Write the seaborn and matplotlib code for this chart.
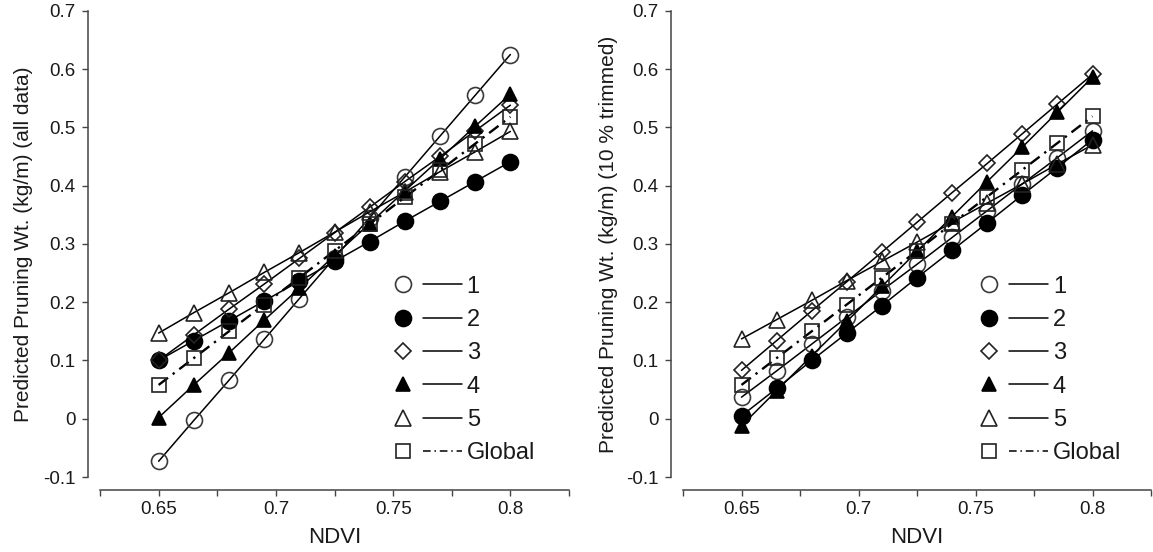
import matplotlib
matplotlib.use("Agg")
import matplotlib.pyplot as plt
from matplotlib.lines import Line2D
from matplotlib.legend_handler import HandlerTuple
import seaborn as sns
import pandas as pd

# NDVI values at which the pruning weight was predicted
ndvi = [0.65, 0.665, 0.68, 0.695, 0.71, 0.725, 0.74, 0.755, 0.77, 0.785, 0.8]

# Predicted pruning weight (kg/m), model fitted on all data
all_1 = [-0.073, -0.003, 0.066, 0.136, 0.206, 0.276, 0.345, 0.415, 0.485, 0.555, 0.625]
all_2 = [0.100, 0.134, 0.168, 0.202, 0.236, 0.270, 0.304, 0.339, 0.373, 0.407, 0.441]
all_3 = [0.100, 0.144, 0.188, 0.231, 0.275, 0.319, 0.363, 0.407, 0.450, 0.494, 0.538]
all_4 = [0.002, 0.058, 0.113, 0.169, 0.224, 0.280, 0.335, 0.391, 0.446, 0.502, 0.557]
all_5 = [0.147, 0.182, 0.216, 0.251, 0.285, 0.320, 0.355, 0.389, 0.424, 0.458, 0.493]
all_g = [0.058, 0.104, 0.150, 0.196, 0.242, 0.288, 0.334, 0.380, 0.426, 0.472, 0.518]

# Predicted pruning weight (kg/m), model fitted on 10 % trimmed data
trim_1 = [0.037, 0.082, 0.128, 0.174, 0.220, 0.265, 0.311, 0.357, 0.403, 0.448, 0.494]
trim_2 = [0.005, 0.052, 0.100, 0.147, 0.194, 0.242, 0.289, 0.336, 0.384, 0.431, 0.479]
trim_3 = [0.083, 0.134, 0.185, 0.235, 0.286, 0.337, 0.388, 0.438, 0.489, 0.540, 0.591]
trim_4 = [-0.012, 0.048, 0.108, 0.167, 0.227, 0.287, 0.347, 0.407, 0.466, 0.526, 0.586]
trim_5 = [0.137, 0.170, 0.203, 0.237, 0.270, 0.303, 0.337, 0.370, 0.403, 0.437, 0.470]
trim_g = [0.058, 0.104, 0.150, 0.196, 0.242, 0.288, 0.335, 0.381, 0.427, 0.473, 0.519]

series_names = ["1", "2", "3", "4", "5", "Global"]
x_tick_pos = [0.625, 0.65, 0.675, 0.7, 0.725, 0.75, 0.775, 0.8, 0.825]
x_tick_labels = ["", "0.65", "", "0.7", "", "0.75", "", "0.8", ""]
y_ticks = [-0.1, 0, 0.1, 0.2, 0.3, 0.4, 0.5, 0.6, 0.7]
y_tick_labels = ["-0.1", "0", "0.1", "0.2", "0.3", "0.4", "0.5", "0.6", "0.7"]

sns.set_style("ticks")
plt.rcParams["font.family"] = ["Liberation Sans", "DejaVu Sans"]

TXT = "#1a1a1a"
AX = "#444444"

dashdot = (0, (5, 2.5, 1, 2.5))
styles = {
    "1": dict(marker="o", markerfacecolor="none", markeredgecolor="#3a3a3a", markersize=11.5, linestyle="-", linewidth=1.1),
    "2": dict(marker="o", markerfacecolor="black", markeredgecolor="black", markersize=11.5, linestyle="-", linewidth=1.1),
    "3": dict(marker="D", markerfacecolor="none", markeredgecolor="#222222", markersize=8.5, linestyle="-", linewidth=1.1),
    "4": dict(marker="^", markerfacecolor="black", markeredgecolor="black", markersize=10.5, linestyle="-", linewidth=1.1),
    "5": dict(marker="^", markerfacecolor="none", markeredgecolor="#222222", markersize=11.5, linestyle="-", linewidth=1.1),
    "Global": dict(marker="s", markerfacecolor="none", markeredgecolor="#222222", markersize=10, linestyle=dashdot, linewidth=1.7),
}

panels = [
    ([all_1, all_2, all_3, all_4, all_5, all_g], "Predicted Pruning Wt. (kg/m) (all data)",
     [100 / 1153, 469 / 1153], 0.604, -0.143),
    ([trim_1, trim_2, trim_3, trim_4, trim_5, trim_g], "Predicted Pruning Wt. (kg/m) (10 % trimmed)",
     [683 / 1153, 468 / 1153], 0.612, -0.139),
]

fig = plt.figure(figsize=(11.53, 5.52), dpi=100, facecolor="white")
bottom = 1 - 477 / 552
height = (477 - 10.8) / 552

for values, ylabel, (left, width), leg_x, ylab_x in panels:
    ax = fig.add_axes([left, bottom, width, height])
    for name, vals in zip(series_names, values):
        df = pd.DataFrame({"NDVI": ndvi, "w": vals})
        sns.lineplot(data=df, x="NDVI", y="w", ax=ax, color="black", legend=False,
                     markeredgewidth=1.2, zorder=3, **styles[name])

    ax.set_xlim(0.625, 0.825)
    ax.set_ylim(-0.1, 0.7)
    ax.set_xticks(x_tick_pos)
    ax.set_xticklabels(x_tick_labels)
    ax.set_yticks(y_ticks)
    ax.set_yticklabels(y_tick_labels)
    ax.tick_params(axis="both", direction="out", length=4.5, width=1.0, color=AX,
                   labelsize=13.5, labelcolor=TXT, pad=4)
    for side in ("top", "right"):
        ax.spines[side].set_visible(False)
    for side in ("left", "bottom"):
        ax.spines[side].set_color(AX)
        ax.spines[side].set_linewidth(1.1)
        ax.spines[side].set_position(("outward", 9))
    ax.set_xlabel("NDVI", fontsize=16, color=TXT, labelpad=6)
    ax.set_ylabel(ylabel, fontsize=15, color=TXT)
    ax.yaxis.set_label_coords(ylab_x, 0.5)
    ax.grid(False)

    handles = []
    for name in series_names:
        st = styles[name]
        mk = Line2D([], [], marker=st["marker"], markersize=st["markersize"],
                    markerfacecolor=st["markerfacecolor"], markeredgecolor=st["markeredgecolor"],
                    markeredgewidth=1.2, linestyle="none")
        ln = Line2D([], [], color="black", linestyle=st["linestyle"], linewidth=1.1)
        handles.append((mk, ln))
    ax.legend(handles, series_names, handler_map={tuple: HandlerTuple(ndivide=None, pad=0.02)},
              loc="center left", bbox_to_anchor=(leg_x, 0.2296), frameon=False,
              fontsize=17, labelcolor=TXT, handlelength=3.33, handletextpad=0.2,
              labelspacing=0.48, borderpad=0, borderaxespad=0)

fig.savefig("out.png", dpi=100, facecolor="white")
